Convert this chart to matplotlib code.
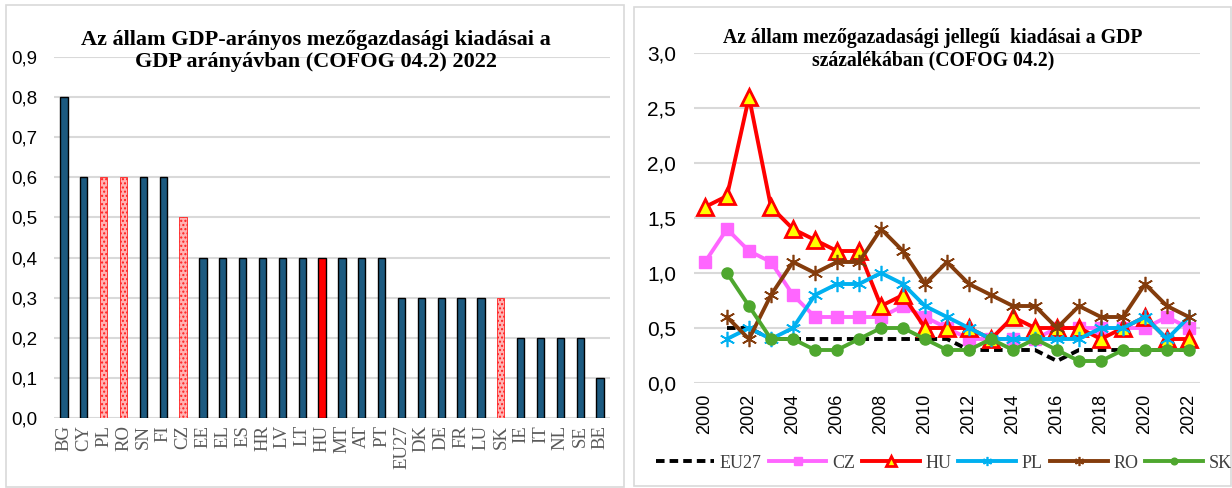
import matplotlib
matplotlib.use("Agg")
from matplotlib import pyplot as plt
from matplotlib.patches import Rectangle
from matplotlib.ticker import FuncFormatter

# --- data: left bar chart (2022) ---
countries = ["BG", "CY", "PL", "RO", "SN", "FI", "CZ", "EE", "EL", "ES", "HR", "LV", "LT", "HU",
             "MT", "AT", "PT", "EU27", "DK", "DE", "FR", "LU", "SK", "IE", "IT", "NL", "SE", "BE"]
share_2022 = [0.8, 0.6, 0.6, 0.6, 0.6, 0.6, 0.5, 0.4, 0.4, 0.4, 0.4, 0.4, 0.4, 0.4,
              0.4, 0.4, 0.4, 0.3, 0.3, 0.3, 0.3, 0.3, 0.3, 0.2, 0.2, 0.2, 0.2, 0.1]
hatched = ["PL", "RO", "CZ", "SK"]
highlight = ["HU"]

# --- data: right line chart (2000-2022) ---
years = list(range(2000, 2023))
eu27 = [None, 0.5, 0.5, 0.4, 0.4, 0.4, 0.4, 0.4, 0.4, 0.4, 0.4, 0.4, 0.3, 0.3, 0.3, 0.3,
        0.2, 0.3, 0.3, 0.3, 0.3, 0.3, 0.3]
cz = [1.1, 1.4, 1.2, 1.1, 0.8, 0.6, 0.6, 0.6, 0.6, 0.7, 0.6, 0.5, 0.4, 0.4, 0.4, 0.4,
      0.5, 0.5, 0.5, 0.5, 0.5, 0.6, 0.5]
hu = [1.6, 1.7, 2.6, 1.6, 1.4, 1.3, 1.2, 1.2, 0.7, 0.8, 0.5, 0.5, 0.5, 0.4, 0.6, 0.5,
      0.5, 0.5, 0.4, 0.5, 0.6, 0.4, 0.4]
pl = [None, 0.4, 0.5, 0.4, 0.5, 0.8, 0.9, 0.9, 1.0, 0.9, 0.7, 0.6, 0.5, 0.4, 0.4, 0.4,
      0.4, 0.4, 0.5, 0.5, 0.6, 0.4, 0.6]
ro = [None, 0.6, 0.4, 0.8, 1.1, 1.0, 1.1, 1.1, 1.4, 1.2, 0.9, 1.1, 0.9, 0.8, 0.7, 0.7,
      0.5, 0.7, 0.6, 0.6, 0.9, 0.7, 0.6]
sk = [None, 1.0, 0.7, 0.4, 0.4, 0.3, 0.3, 0.4, 0.5, 0.5, 0.4, 0.3, 0.3, 0.4, 0.3, 0.4,
      0.3, 0.2, 0.2, 0.3, 0.3, 0.3, 0.3]

def nan(vals):
    return [float("nan") if v is None else v for v in vals]

W, H = 1232, 488
fig = plt.figure(figsize=(W / 100, H / 100), dpi=100)

def box(x0, y0, x1, y1):
    # pixel coords (top-left origin) -> figure fraction
    return [x0 / W, 1 - y1 / H, (x1 - x0) / W, (y1 - y0) / H]

comma = FuncFormatter(lambda v, p: f"{v:.1f}".replace(".", ","))
grid_col = "#d9d9d9"
serif = "Liberation Serif"
sans = "Liberation Sans"

# panel borders
for b in [box(6, 5, 624, 487), box(634, 7, 1231, 486)]:
    fig.patches.append(Rectangle((b[0], b[1]), b[2], b[3], transform=fig.transFigure,
                                 fill=False, edgecolor=grid_col, linewidth=1.2))

# ---------- left: bars ----------
ax1 = fig.add_axes(box(54, 57, 610, 418))
x = range(len(countries))
for i, (c, v) in enumerate(zip(countries, share_2022)):
    if c in hatched:
        ax1.bar(i, v, width=0.36, color="#ffb3b3", edgecolor="#ff2020", hatch="....",
                linewidth=0.6, zorder=3)
    elif c in highlight:
        ax1.bar(i, v, width=0.36, color="#ff0000", edgecolor="black", linewidth=1, zorder=3)
    else:
        ax1.bar(i, v, width=0.36, color="#1c5a80", edgecolor="black", linewidth=1, zorder=3)
ax1.set_xlim(-0.5, len(countries) - 0.5)
ax1.set_ylim(0, 0.9)
ax1.set_yticks([i / 10 for i in range(10)])
ax1.yaxis.set_major_formatter(comma)
ax1.set_xticks(list(x))
ax1.set_xticklabels(countries, rotation=90, fontsize=13.5, family=serif, color="#595959")
ax1.grid(axis="y", color=grid_col, linewidth=1.5, zorder=0)
for s in ax1.spines.values():
    s.set_visible(False)
ax1.tick_params(length=0, pad=5)
ax1.tick_params(axis="y", labelsize=13.5, pad=12)
for t in ax1.get_yticklabels():
    t.set_family(sans)
fig.text(316 / W, 1 - 51 / H,
         "Az állam GDP-arányos mezőgazdasági kiadásai a\nGDP arányávban (COFOG 04.2) 2022",
         ha="center", va="center", fontsize=16, fontweight="bold", family=serif,
         linespacing=1.12)

# ---------- right: lines ----------
ax2 = fig.add_axes(box(694, 53, 1200, 383))
lw = 2.8
ax2.plot(years, nan(eu27), color="black", linestyle=(0, (2.2, 1.3)), linewidth=lw,
         label="EU27", zorder=3)
ax2.plot(years, nan(cz), color="#ff66ff", marker="s", markersize=9, linewidth=lw,
         label="CZ", zorder=4)
ax2.plot(years, nan(hu), color="#ff0000", marker="^", markersize=11, markerfacecolor="#ffff00",
         markeredgecolor="#ff0000", markeredgewidth=2, linewidth=lw, label="HU", zorder=5)
ax2.plot(years, nan(pl), color="#00b0f0", marker=(6, 2, 0), markersize=11, markeredgewidth=1.2,
         linewidth=lw, label="PL", zorder=6)
ax2.plot(years, nan(ro), color="#843c0c", marker=(6, 2, 0), markersize=11, markeredgewidth=1.2,
         linewidth=lw, label="RO", zorder=7)
ax2.plot(years, nan(sk), color="#4ea72e", marker="o", markersize=8, linewidth=lw,
         label="SK", zorder=8)
ax2.set_xlim(1999.5, 2022.5)
ax2.set_ylim(0, 3.0)
ax2.set_yticks([i / 2 for i in range(7)])
ax2.yaxis.set_major_formatter(comma)
ax2.set_xticks(years[::2])
ax2.set_xticklabels([str(y) for y in years[::2]], rotation=90, fontsize=13, family=sans)
ax2.grid(axis="y", color=grid_col, linewidth=1.5, zorder=0)
for s in ax2.spines.values():
    s.set_visible(False)
ax2.tick_params(length=0, pad=8)
ax2.tick_params(axis="y", labelsize=15, pad=13)
for t in ax2.get_yticklabels():
    t.set_family(sans)
fig.text(933 / W, 1 - 49 / H,
         "Az állam mezőgazadasági jellegű  kiadásai a GDP\nszázalékában (COFOG 04.2)",
         ha="center", va="center", fontsize=14.2, fontweight="bold", family=serif,
         linespacing=1.15)

leg = fig.legend(loc="center", bbox_to_anchor=(944 / W, 1 - 463 / H), ncol=6, frameon=False,
                 handlelength=3.2, handletextpad=0.3, columnspacing=0.4, markerscale=0.6,
                 prop={"family": serif, "size": 13}, borderaxespad=0)
for t in leg.get_texts():
    t.set_color("#404040")

plt.savefig("out.png", dpi=100)
